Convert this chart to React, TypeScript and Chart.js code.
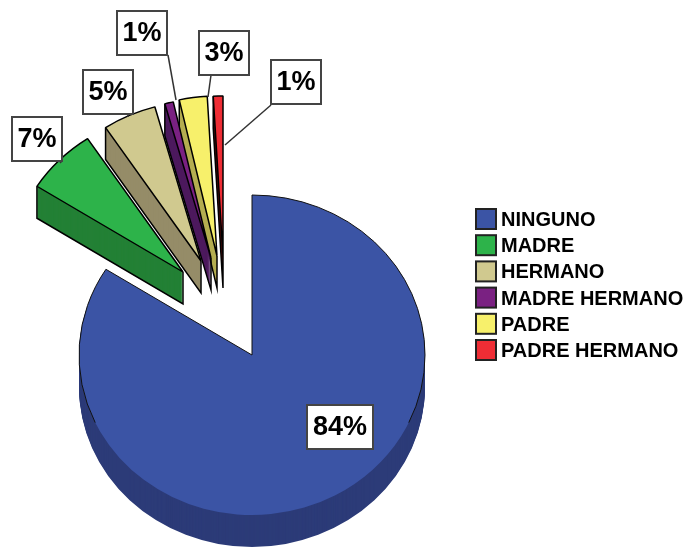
import React, { useEffect, useRef } from "react";
import { Chart, registerables } from "chart.js";

Chart.register(...registerables);

// Data
const categories = ["NINGUNO", "MADRE", "HERMANO", "MADRE HERMANO", "PADRE", "PADRE HERMANO"];
const percentages = [84, 6.7, 5, 0.8, 2.6, 0.9];
const shownLabels = ["84%", "7%", "5%", "1%", "3%", "1%"];

// Styles
const topColours = ["#3B54A5", "#2DB34A", "#D0C98F", "#7A2182", "#F7F06B", "#EE2D35"];
const wallColours = ["#2C3B78", "#238035", "#958C68", "#4D1A5E", "#B5AE50", "#5A1010"];

// Layout
const PIE_CENTRE = { x: 252, y: 355 };
const RADIUS_X = 173;
const RADIUS_Y = 160;
const DEPTH = 32;
const pullX = [0, -69, -51, -41, -35, -29];
const pullY = [0, -83, -94, -97, -99, -99];
const drawOrder = [0, 5, 4, 3, 2, 1];
const labelCentreX = [340, 37, 108, 142, 224, 296];
const labelCentreY = [427, 139, 92, 33, 53, 82];
const labelHalfW = [33, 25, 25, 25, 25, 25];
const LABEL_HALF_H = 22;
const LABEL_FONT = 'bold 27px "Liberation Sans", Arial, sans-serif';
const leaderFromX = [NaN, 62, 128, 168, 211, 271];
const leaderFromY = [NaN, 161, 114, 55, 75, 105];
const leaderToX = [NaN, 60, 128, 176, 208, 225];
const leaderToY = [NaN, 163, 117, 100, 97, 145];
const LEGEND_X = 476;
const LEGEND_Y = 209;
const LEGEND_STEP = 26.2;
const LEGEND_BOX = 20;
const LEGEND_TEXT_X = 501;
const LEGEND_FONT = 'bold 20px "Liberation Sans", Arial, sans-serif';

const piePlugin = {
  id: "explodedPie3d",
  beforeDatasetsDraw(chart: any) {
    const ctx = chart.ctx;
    const arcs = chart.getDatasetMeta(0).data;
    const k = RADIUS_Y / RADIUS_X;
    for (const i of drawOrder) {
      const el = arcs[i];
      const ax = PIE_CENTRE.x + pullX[i];
      const ay = PIE_CENTRE.y + pullY[i];
      const a0 = el.startAngle;
      const a1 = el.endAngle;
      // side wall
      ctx.save();
      ctx.fillStyle = wallColours[i];
      for (let d = DEPTH; d >= 1; d--) {
        ctx.beginPath();
        ctx.moveTo(ax, ay + d);
        ctx.ellipse(ax, ay + d, RADIUS_X, RADIUS_Y, 0, a0, a1);
        ctx.closePath();
        ctx.fill();
      }
      ctx.strokeStyle = "#000";
      ctx.lineWidth = 1.5;
      if (i > 0) {
        const sx = ax + RADIUS_X * Math.cos(a0);
        const sy = ay + RADIUS_Y * Math.sin(a0);
        ctx.beginPath();
        ctx.moveTo(sx, sy);
        ctx.lineTo(sx, sy + DEPTH);
        ctx.lineTo(ax, ay + DEPTH);
        ctx.lineTo(ax, ay);
        ctx.stroke();
      }
      ctx.restore();
      // top face, drawn by the library's arc element
      ctx.save();
      ctx.translate(ax, ay);
      ctx.scale(1, k);
      ctx.translate(-el.x, -el.y);
      el.draw(ctx);
      ctx.restore();
      if (i === 0) {
        ctx.save();
        ctx.strokeStyle = "#111";
        ctx.lineWidth = 1;
        const sides: number[][] = [
          [a0, (25 * Math.PI) / 180],
          [(155 * Math.PI) / 180, a1],
        ];
        for (const [s, e] of sides) {
          ctx.beginPath();
          ctx.ellipse(ax, ay, RADIUS_X, RADIUS_Y, 0, s, e);
          ctx.stroke();
        }
        ctx.beginPath();
        ctx.moveTo(ax + RADIUS_X * Math.cos(a1), ay + RADIUS_Y * Math.sin(a1));
        ctx.lineTo(ax, ay);
        ctx.lineTo(ax, ay - RADIUS_Y);
        ctx.stroke();
        ctx.restore();
      }
    }
    return false;
  },
  afterDraw(chart: any) {
    const ctx = chart.ctx;
    ctx.save();
    // leader lines
    ctx.strokeStyle = "#333";
    ctx.lineWidth = 1.5;
    shownLabels.forEach((_, i) => {
      if (Number.isNaN(leaderFromX[i])) return;
      ctx.beginPath();
      ctx.moveTo(leaderFromX[i], leaderFromY[i]);
      ctx.lineTo(leaderToX[i], leaderToY[i]);
      ctx.stroke();
    });
    // value labels
    shownLabels.forEach((text, i) => {
      const w = labelHalfW[i];
      const x = labelCentreX[i] - w;
      const y = labelCentreY[i] - LABEL_HALF_H;
      ctx.fillStyle = "#fff";
      ctx.fillRect(x, y, w * 2, LABEL_HALF_H * 2);
      ctx.strokeStyle = "#444";
      ctx.lineWidth = 2;
      ctx.strokeRect(x, y, w * 2, LABEL_HALF_H * 2);
      ctx.fillStyle = "#000";
      ctx.font = LABEL_FONT;
      ctx.textAlign = "center";
      ctx.textBaseline = "middle";
      ctx.fillText(text, labelCentreX[i], labelCentreY[i] + 1);
    });
    // legend
    const names = chart.data.labels as string[];
    const fills = chart.data.datasets[0].backgroundColor as string[];
    names.forEach((name, i) => {
      const y = LEGEND_Y + i * LEGEND_STEP;
      ctx.fillStyle = fills[i];
      ctx.fillRect(LEGEND_X, y, LEGEND_BOX, LEGEND_BOX);
      ctx.strokeStyle = "#222";
      ctx.lineWidth = 2;
      ctx.strokeRect(LEGEND_X, y, LEGEND_BOX, LEGEND_BOX);
      ctx.fillStyle = "#000";
      ctx.font = LEGEND_FONT;
      ctx.textAlign = "left";
      ctx.textBaseline = "middle";
      ctx.fillText(name, LEGEND_TEXT_X, y + LEGEND_BOX / 2 + 1.5);
    });
    ctx.restore();
  },
};

export default function App() {
  const ref = useRef<HTMLCanvasElement>(null);
  useEffect(() => {
    const chart = new Chart(ref.current as HTMLCanvasElement, {
      type: "pie",
      data: {
        labels: categories,
        datasets: [
          {
            data: percentages,
            backgroundColor: topColours,
            borderColor: "#000",
            borderWidth: [0, 1.5, 1.5, 1.5, 1.5, 1.5],
            radius: RADIUS_X,
          },
        ],
      },
      options: {
        animation: false,
        responsive: false,
        layout: { padding: 0 },
        plugins: { legend: { display: false }, tooltip: { enabled: false } },
      },
      plugins: [piePlugin],
    } as any);
    return () => chart.destroy();
  }, []);
  return (
    <div style={{ position: "fixed", left: 0, top: 0, width: 686, height: 548, background: "#fff" }}>
      <canvas ref={ref} width={686} height={548} style={{ display: "block", filter: "blur(0.5px)" }} />
    </div>
  );
}
